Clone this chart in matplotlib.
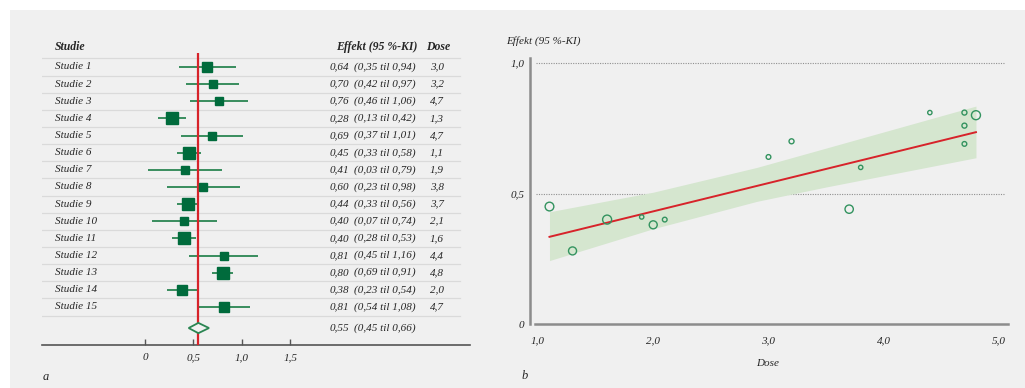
import numpy as np
import matplotlib
matplotlib.use("Agg")
import matplotlib.pyplot as plt
from matplotlib.patches import Rectangle

# data
studier = ["Studie 1", "Studie 2", "Studie 3", "Studie 4", "Studie 5",
           "Studie 6", "Studie 7", "Studie 8", "Studie 9", "Studie 10",
           "Studie 11", "Studie 12", "Studie 13", "Studie 14", "Studie 15"]
effekt = [0.64, 0.70, 0.76, 0.28, 0.69, 0.45, 0.41, 0.60, 0.44, 0.40,
          0.40, 0.81, 0.80, 0.38, 0.81]
ki_lav = [0.35, 0.42, 0.46, 0.13, 0.37, 0.33, 0.03, 0.23, 0.33, 0.07,
          0.28, 0.45, 0.69, 0.23, 0.54]
ki_hoy = [0.94, 0.97, 1.06, 0.42, 1.01, 0.58, 0.79, 0.98, 0.56, 0.74,
          0.53, 1.16, 0.91, 0.54, 1.08]
dose = [3.0, 3.2, 4.7, 1.3, 4.7, 1.1, 1.9, 3.8, 3.7, 2.1,
        1.6, 4.4, 4.8, 2.0, 4.7]
# relative study weights (box size in forest plot, circle size in panel b)
vekt_boks = [8.7, 8.3, 8.3, 11.5, 8.3, 11, 7.3, 6.7, 11, 7.7, 10.5, 7.7, 11, 10, 8.7]
vekt_sirkel = [4.7, 5, 5, 8, 4.7, 8.7, 4.3, 4.3, 8.3, 4.7, 9, 4.3, 9, 8, 5]

samlet = (0.55, 0.45, 0.66)

fit_dose = [1.1, 4.8]
fit_effekt = [0.334, 0.735]
band_dose = [1.1, 2.0, 2.9, 3.5, 4.8]
band_lav = [0.243, 0.365, 0.47, 0.525, 0.637]
band_hoy = [0.430, 0.505, 0.60, 0.674, 0.835]

x_ticks_a = [0, 0.5, 1.0, 1.5]
x_labels_a = ["0", "0,5", "1,0", "1,5"]
x_ticks_b = [1, 2, 3, 4, 5]
x_labels_b = ["1,0", "2,0", "3,0", "4,0", "5,0"]
y_ticks_b = [0, 0.5, 1.0]
y_labels_b = ["0", "0,5", "1,0"]


def komma(v):
    return f"{v:.2f}".replace(".", ",")


FONT = "Liberation Serif"
GRONN = "#006b3c"
GRONN_LYS = "#2a8552"
ROD = "#d7232a"
TEKST = "#262626"
plt.rcParams["font.family"] = FONT
plt.rcParams["font.style"] = "italic"

W, H = 1025, 388
fig = plt.figure(figsize=(W / 100, H / 100), dpi=100)
fig.patch.set_facecolor("white")
fig.patches.append(Rectangle((10 / W, 0), 1, 1 - 10 / H, transform=fig.transFigure,
                             facecolor="#f0f0f0", edgecolor="none", zorder=-10))

# ---- panel a: forest plot ----
ax1 = fig.add_axes([42 / W, (H - 345) / H, 428 / W, 310 / H])
ax1.set_facecolor("none")
ax1.set_xlim(-1.062, 3.351)
ax1.set_ylim(17.22, -0.867)
for s in ["top", "left", "right"]:
    ax1.spines[s].set_visible(False)
ax1.spines["bottom"].set_color("#555555")
ax1.spines["bottom"].set_linewidth(1.2)
ax1.set_yticks([])
ax1.set_xticks(x_ticks_a)
ax1.set_xticklabels(x_labels_a, fontsize=8, style="italic", color=TEKST)
ax1.tick_params(axis="x", direction="in", length=4, width=1, color="#555555", pad=6)

rader = np.arange(1, len(studier) + 1)
for y in np.arange(0.5, len(studier) + 1):
    ax1.axhline(y, xmin=0, xmax=0.977, color="#dadada", lw=0.9, zorder=1)

ax1.hlines(rader, ki_lav, ki_hoy, color=GRONN_LYS, lw=1.3, zorder=2)
ax1.vlines(samlet[0], 0.18, 17.22, color=ROD, lw=1.6, zorder=3)
for r, e, w in zip(rader, effekt, vekt_boks):
    ax1.plot(e, r, marker="s", ms=w * 0.76, color=GRONN, mec=GRONN, ls="none", zorder=4)

rad_samlet = 16.23
ax1.fill([samlet[1], samlet[0], samlet[2], samlet[0]],
         [rad_samlet, rad_samlet - 0.3, rad_samlet, rad_samlet + 0.3],
         facecolor="#f0f0f0", edgecolor=GRONN_LYS, lw=1.3, zorder=5)

tr = ax1.get_yaxis_transform()
tekst = dict(fontsize=8, style="italic", color=TEKST, va="center", transform=tr)
hode = dict(tekst, fontsize=8.5, fontweight="bold")
ax1.text(0.030, -0.17, "Studie", **hode)
ax1.text(0.687, -0.17, "Effekt (95 %-KI)", **hode)
ax1.text(0.925, -0.17, "Dose", ha="center", **hode)
for r, navn, e, lo, hi, d in zip(rader, studier, effekt, ki_lav, ki_hoy, dose):
    ax1.text(0.030, r, navn, **tekst)
    ax1.text(0.717, r, komma(e), ha="right", **tekst)
    ax1.text(0.729, r, f"({komma(lo)} til {komma(hi)})", **tekst)
    ax1.text(0.923, r, f"{d:.1f}".replace(".", ","), ha="center", **tekst)
ax1.text(0.717, rad_samlet, komma(samlet[0]), ha="right", **tekst)
ax1.text(0.729, rad_samlet, f"({komma(samlet[1])} til {komma(samlet[2])})", **tekst)

fig.text(43 / W, 1 - 377 / H, "a", fontsize=9, style="italic", color=TEKST, va="center")

# ---- panel b: meta-regression ----
ax2 = fig.add_axes([530 / W, (H - 324) / H, 478 / W, 266 / H])
ax2.set_facecolor("none")
ax2.set_xlim(0.931, 5.078)
ax2.set_ylim(0, 266 / 261)
for s in ["top", "right"]:
    ax2.spines[s].set_visible(False)
for s in ["left", "bottom"]:
    ax2.spines[s].set_color("#8c8c8c")
    ax2.spines[s].set_linewidth(1.8)
ax2.spines["left"].set_bounds(0, 266 / 261)
ax2.spines["bottom"].set_bounds(0.974, 5.078)
ax2.set_xticks(x_ticks_b)
ax2.set_xticklabels(x_labels_b, fontsize=8, style="italic", color=TEKST)
ax2.set_yticks(y_ticks_b)
ax2.set_yticklabels(y_labels_b, fontsize=8, style="italic", color=TEKST)
ax2.tick_params(axis="x", length=0, pad=9)
ax2.tick_params(axis="y", length=0, pad=4)

for g in [0.5, 1.0]:
    ax2.axhline(g, xmin=0.0126, xmax=0.9937, color="#8f8f8f", lw=0.8,
                ls=(0, (1, 1.2)), zorder=1)

ax2.fill_between(band_dose, band_lav, band_hoy, color="#d5e6cf", lw=0, zorder=2)
ax2.plot(fit_dose, fit_effekt, color=ROD, lw=1.4, zorder=3)
ax2.scatter(dose, effekt, s=(np.array(vekt_sirkel) * 0.72) ** 2, facecolors="none",
            edgecolors="#33935f", linewidths=1.0, zorder=4)

fig.text(506 / W, 1 - 41 / H, "Effekt (95 %-KI)", fontsize=8, style="italic",
         color=TEKST, va="center")
fig.text(768 / W, 1 - 363 / H, "Dose", fontsize=8, style="italic",
         color=TEKST, va="center", ha="center")
fig.text(522 / W, 1 - 376 / H, "b", fontsize=9, style="italic", color=TEKST, va="center")

fig.savefig("out.png", dpi=100, facecolor=fig.get_facecolor())
